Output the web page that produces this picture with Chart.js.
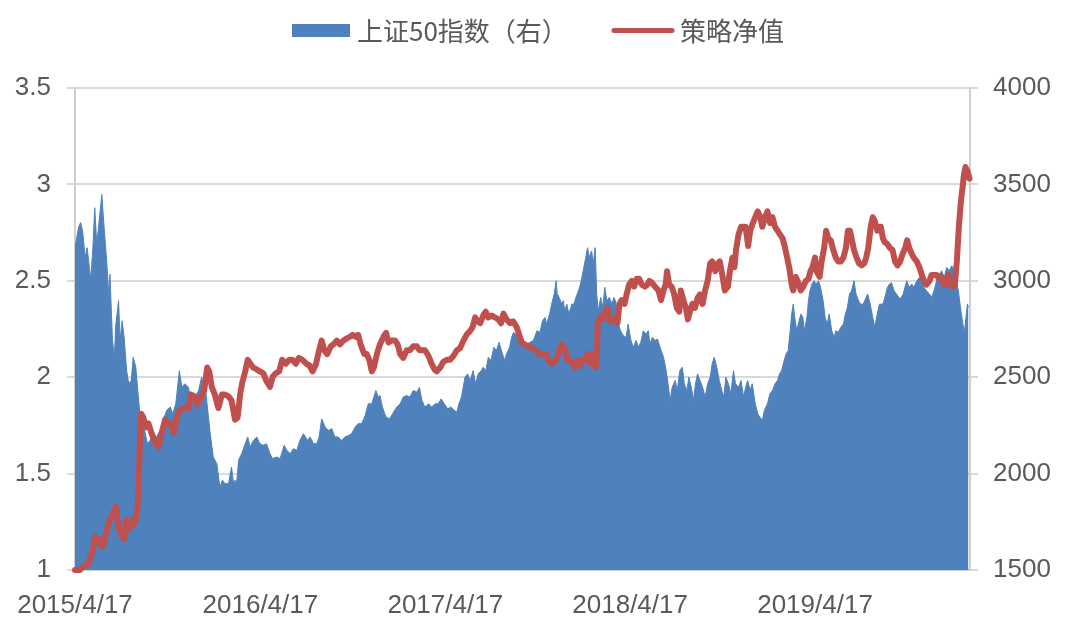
<!DOCTYPE html>
<html>
<head>
<meta charset="utf-8">
<script src="https://cdn.jsdelivr.net/npm/chart.js"></script>
<style>
  html, body { margin: 0; padding: 0; background: #fff; }
  #wrap { width: 1074px; height: 624px; position: relative; }
</style>
</head>
<body>
<div id="wrap"><canvas id="chart"></canvas></div>
<script>
// x 轴：距 2015/4/17 的天数
const tickDays = [0, 366, 731, 1096, 1461];
const tickLabels = ['2015/4/17', '2016/4/17', '2017/4/17', '2018/4/17', '2019/4/17'];
const lastDay = 1767;

const seriesNames = ['上证50指数（右）', '策略净值'];

// 上证50指数（右轴）
const indexDays = [
  0, 7, 11, 15, 20, 24, 31, 35, 39, 43, 47, 53, 56, 63, 67, 69, 74, 78, 80, 86, 89, 93, 97, 102, 106, 111, 115, 120, 124, 128, 136, 143, 148, 155, 161, 168, 174, 181, 188, 193, 199, 206, 211, 217, 224,
  230, 237, 244, 250, 253, 258, 262, 267, 273, 280, 286, 291, 296, 303, 309, 313, 316, 319, 323, 329, 336, 341, 346, 352, 359, 365, 372, 378, 385, 390, 398, 405, 413, 418, 425, 431, 438, 444, 451,
  459, 464, 471, 477, 482, 487, 494, 500, 507, 513, 520, 526, 533, 540, 546, 553, 559, 566, 573, 579, 586, 590, 594, 599, 602, 607, 614, 621, 627, 635, 642, 648, 655, 661, 668, 675, 680,
  685, 691, 698, 704, 711, 717, 723, 729, 736, 742, 749, 754, 758, 763, 770, 775, 780, 786, 791, 796, 802, 806, 811, 816, 821, 827, 832, 837, 842, 848, 852, 858, 862, 866, 872, 879, 885, 892, 898, 905,
  912, 918, 923, 928, 931, 937, 941, 946, 950, 952, 956, 961, 964, 967, 971, 975, 981, 985, 989, 994, 998, 1002, 1007, 1012, 1015, 1020, 1023, 1027, 1030, 1033, 1038, 1042, 1046, 1050, 1055, 1060, 1064, 1068, 1073, 1077, 1083, 1088, 1092, 1097, 1102, 1108, 1112, 1117, 1122, 1127, 1132,
  1135, 1140, 1145, 1150, 1155, 1162, 1166, 1170, 1175, 1179, 1185, 1189, 1194, 1199, 1203, 1208, 1212, 1218, 1221, 1225, 1229, 1234, 1239, 1244, 1249, 1254, 1258, 1262, 1267, 1272, 1277, 1281, 1285, 1290, 1295, 1300, 1304, 1310, 1315, 1320, 1324, 1328, 1333, 1337, 1343, 1348, 1352, 1357, 1361,
  1367, 1372, 1377, 1382, 1387, 1391, 1395, 1400, 1404, 1408, 1412, 1415, 1418, 1421, 1425, 1428, 1433, 1437, 1440, 1445, 1448, 1451, 1455, 1459, 1463, 1468, 1472, 1477, 1481, 1485, 1489, 1494, 1499, 1502, 1507, 1512, 1517, 1521, 1525, 1529, 1533, 1538, 1542, 1547, 1551, 1556, 1562, 1565, 1570, 1575, 1579, 1584, 1588,
  1595, 1599, 1604, 1608, 1612, 1617, 1622, 1629, 1635, 1642, 1647, 1652, 1656, 1662, 1667, 1672, 1676, 1681, 1687, 1691, 1696, 1701, 1706, 1711, 1716, 1721, 1726, 1731, 1735, 1739, 1744, 1749, 1753, 1756, 1759, 1762, 1764
];
const indexValues = [
  3172, 3276, 3302, 3259, 3121, 3172, 3008, 3155, 3379, 3190, 3293, 3448, 3328, 3086, 2914, 3034, 2690, 2603, 2759, 2897, 2690, 2793, 2707, 2534, 2466, 2483, 2603, 2552, 2431, 2310, 2241, 2155, 2172, 2207, 2190, 2224, 2276, 2328, 2345, 2310, 2362, 2534, 2448, 2466, 2448,
  2362, 2397, 2431, 2500, 2466, 2431, 2328, 2207, 2086, 2052, 1931, 1966, 1948, 1948, 2034, 1948, 1966, 1948, 2069, 2103, 2155, 2190, 2138, 2172, 2190, 2155, 2147, 2155, 2103, 2078, 2086, 2078, 2147, 2121, 2103, 2129, 2121, 2172, 2207,
  2172, 2190, 2155, 2155, 2190, 2284, 2241, 2224, 2233, 2190, 2190, 2172, 2190, 2198, 2207, 2241, 2259, 2259, 2302, 2362, 2362, 2397, 2431, 2397, 2405, 2345, 2293, 2284, 2310, 2345, 2362, 2397, 2405, 2397, 2431, 2422, 2448,
  2379, 2345, 2362, 2345, 2362, 2362, 2388, 2362, 2336, 2345, 2328, 2319, 2362, 2397, 2500, 2517, 2483, 2534, 2466, 2517, 2534, 2552, 2534, 2603, 2586, 2655, 2638, 2681, 2638, 2586, 2621, 2655, 2707, 2733, 2717, 2690, 2681, 2672, 2681, 2690,
  2741, 2733, 2793, 2810, 2776, 2828, 2879, 2931, 3000, 2931, 2914, 2879, 2897, 2845, 2879, 2828, 2879, 2879, 2914, 2948, 2983, 3034, 3103, 3172, 3121, 3155, 3086, 3172, 2931, 2845, 2914, 2862, 2966, 2897, 2914, 2879, 2914, 2888, 2776, 2741, 2715, 2707, 2776, 2698, 2655, 2690, 2655, 2681, 2741, 2724, 2741,
  2672, 2707, 2690, 2698, 2655, 2603, 2552, 2483, 2379, 2448, 2483, 2431, 2534, 2552, 2466, 2431, 2500, 2431, 2379, 2466, 2517, 2483, 2448, 2397, 2466, 2500, 2569, 2603, 2552, 2483, 2431, 2397, 2500, 2466, 2414, 2534, 2466, 2448, 2483, 2397, 2448, 2483, 2431, 2466, 2362, 2310, 2293, 2276, 2328,
  2362, 2414, 2431, 2466, 2483, 2517, 2534, 2586, 2621, 2638, 2741, 2828, 2879, 2810, 2741, 2776, 2828, 2810, 2741, 2810, 2897, 2948, 2983, 3000, 2983, 3000, 2966, 2897, 2810, 2776, 2828, 2741, 2707, 2741, 2733, 2759, 2776, 2828, 2862, 2931, 2948, 3000, 2931, 2897, 2879, 2879, 2914, 2931, 2879, 2810, 2759, 2828, 2879,
  2879, 2914, 2966, 2983, 2991, 2948, 2931, 2905, 2931, 3000, 2966, 2983, 2966, 3000, 3017, 3000, 2966, 2948, 2931, 2914, 2948, 3000, 3034, 3052, 3017, 3069, 3052, 3078, 3052, 3017, 2948, 2845, 2776, 2733, 2810, 2879, 2862
];

// 策略净值（左轴）
const navDays = [
  0, 10, 16, 26, 31, 35, 39, 46, 53, 57, 63, 69, 74, 81, 86, 90, 97, 101, 107, 114, 118, 123, 126, 128, 131, 135, 140, 145, 151, 158, 165, 171, 178, 184, 191, 195, 201, 207,
  217, 224, 229, 236, 242, 249, 255, 261, 265, 270, 276, 283, 290, 296, 303, 309, 316, 321, 326, 330, 336, 341, 346, 352, 359, 365, 372, 378, 385, 390, 396, 403, 409, 416, 423, 429, 436, 442, 449,
  457, 463, 469, 476, 482, 487, 492, 498, 505, 510, 517, 523, 530, 536, 543, 548, 553, 559, 564, 571, 576, 581, 586, 590, 596, 602, 609, 614, 619, 625, 632, 637, 642, 648, 655, 661, 668, 675, 680,
  685, 691, 698, 704, 710, 714, 721, 727, 734, 740, 747, 754, 760, 767, 773, 780, 785, 790, 795, 800, 806, 811, 816, 823, 829, 836, 841, 846, 852, 859, 865, 872, 877, 882, 888, 895,
  910, 917, 923, 930, 936, 943, 950, 956, 961, 967, 972, 977, 983, 987, 992, 997, 1002, 1007, 1012, 1017, 1022, 1027, 1030, 1032, 1037, 1042, 1046, 1051, 1056, 1062, 1067, 1071, 1075, 1079, 1085, 1089, 1094, 1099, 1104, 1109, 1114, 1119, 1125, 1130, 1134,
  1139, 1145, 1152, 1157, 1162, 1166, 1169, 1173, 1178, 1183, 1188, 1193, 1196, 1201, 1206, 1210, 1214, 1219, 1224, 1229, 1234, 1239, 1244, 1249, 1254, 1258, 1264, 1269, 1273, 1278, 1283, 1289, 1293, 1298, 1302, 1305, 1310, 1315, 1320, 1324, 1329, 1333, 1337, 1343, 1348, 1353, 1357, 1361,
  1367, 1372, 1377, 1382, 1387, 1392, 1397, 1402, 1406, 1410, 1415, 1418, 1423, 1428, 1433, 1438, 1443, 1448, 1452, 1456, 1461, 1464, 1470, 1474, 1479, 1483, 1487, 1492, 1497, 1502, 1507, 1512, 1517, 1522, 1526, 1530, 1534, 1538, 1543, 1548, 1553, 1558, 1562, 1566, 1571, 1575, 1579, 1584, 1588,
  1591, 1595, 1599, 1604, 1609, 1614, 1619, 1624, 1629, 1634, 1639, 1643, 1647, 1652, 1656, 1662, 1667, 1672, 1676, 1681, 1687, 1691, 1696, 1701, 1706, 1711, 1716, 1720, 1724, 1728, 1733, 1737, 1741, 1745, 1749, 1753, 1755, 1758, 1762, 1766
];
const navValues = [
  1.00, 1.00, 1.02, 1.03, 1.07, 1.10, 1.17, 1.16, 1.12, 1.14, 1.21, 1.26, 1.29, 1.33, 1.22, 1.19, 1.16, 1.26, 1.21, 1.26, 1.24, 1.31, 1.45, 1.66, 1.81, 1.79, 1.74, 1.76, 1.71, 1.66, 1.64, 1.71, 1.78, 1.76, 1.76, 1.71, 1.79, 1.83,
  1.84, 1.84, 1.91, 1.90, 1.86, 1.90, 1.93, 2.05, 2.03, 1.95, 1.91, 1.84, 1.91, 1.91, 1.90, 1.88, 1.78, 1.79, 1.91, 1.97, 2.03, 2.09, 2.07, 2.05, 2.04, 2.03, 2.02, 1.98, 1.95, 2.00, 2.02, 2.03, 2.09, 2.07, 2.09, 2.09, 2.07, 2.10, 2.09,
  2.07, 2.06, 2.03, 2.07, 2.14, 2.19, 2.14, 2.12, 2.16, 2.17, 2.19, 2.17, 2.19, 2.20, 2.21, 2.22, 2.21, 2.22, 2.17, 2.12, 2.12, 2.09, 2.03, 2.05, 2.12, 2.17, 2.21, 2.23, 2.18, 2.19, 2.19, 2.17, 2.12, 2.10, 2.14, 2.14, 2.16, 2.16, 2.14,
  2.14, 2.14, 2.11, 2.07, 2.04, 2.03, 2.05, 2.08, 2.09, 2.09, 2.11, 2.14, 2.15, 2.19, 2.22, 2.24, 2.26, 2.31, 2.29, 2.28, 2.32, 2.34, 2.31, 2.32, 2.31, 2.30, 2.28, 2.33, 2.30, 2.28, 2.29, 2.26, 2.22, 2.18, 2.17, 2.16,
  2.14, 2.12, 2.12, 2.12, 2.08, 2.07, 2.09, 2.14, 2.17, 2.15, 2.09, 2.09, 2.07, 2.05, 2.09, 2.06, 2.09, 2.09, 2.12, 2.07, 2.12, 2.05, 2.07, 2.28, 2.31, 2.30, 2.33, 2.36, 2.29, 2.29, 2.31, 2.28, 2.38, 2.40, 2.38, 2.43, 2.48, 2.50, 2.47, 2.51, 2.51, 2.48, 2.47, 2.48, 2.50,
  2.49, 2.47, 2.45, 2.40, 2.45, 2.48, 2.55, 2.48, 2.47, 2.43, 2.36, 2.34, 2.45, 2.40, 2.36, 2.30, 2.34, 2.38, 2.36, 2.41, 2.43, 2.38, 2.45, 2.50, 2.59, 2.60, 2.55, 2.59, 2.60, 2.53, 2.45, 2.47, 2.55, 2.62, 2.57, 2.66, 2.74, 2.78, 2.78, 2.78, 2.68, 2.76, 2.79, 2.83, 2.86, 2.83, 2.78, 2.82,
  2.86, 2.80, 2.83, 2.78, 2.76, 2.74, 2.72, 2.67, 2.62, 2.57, 2.48, 2.45, 2.52, 2.49, 2.45, 2.47, 2.50, 2.51, 2.55, 2.57, 2.62, 2.55, 2.52, 2.60, 2.67, 2.76, 2.72, 2.71, 2.66, 2.62, 2.60, 2.60, 2.62, 2.67, 2.76, 2.76, 2.71, 2.66, 2.62, 2.59, 2.58, 2.59, 2.62, 2.67, 2.78, 2.83, 2.81, 2.76, 2.78,
  2.78, 2.72, 2.70, 2.69, 2.67, 2.66, 2.60, 2.58, 2.60, 2.64, 2.67, 2.71, 2.67, 2.64, 2.62, 2.60, 2.57, 2.53, 2.50, 2.48, 2.50, 2.53, 2.53, 2.53, 2.51, 2.52, 2.48, 2.48, 2.53, 2.50, 2.47, 2.48, 2.60, 2.78, 2.91, 3.00, 3.05, 3.09, 3.07, 3.03
];

const BLUE = '#4F81BD';
const RED = '#C0504D';
const TEXT = '#595959';
const GRID = '#D9D9D9';
const AXIS = '#CFCFCF';
const NUM_FONT = { family: '"Liberation Sans", Arial, sans-serif', size: 26 };

// 图例：蓝色方块 + 红色线段，相对画布中线定位
const topLegend = {
  id: 'topLegend',
  afterDraw(chart) {
    const ctx = chart.ctx;
    const cx = chart.width / 2;
    const cy = 30.5;
    ctx.save();
    ctx.font = '26px "Noto Sans CJK SC", sans-serif';
    ctx.textBaseline = 'middle';

    ctx.fillStyle = BLUE;
    ctx.fillRect(cx - 245, cy - 6.5, 58, 13);
    ctx.fillStyle = TEXT;
    ctx.fillText(seriesNames[0], cx - 180, cy + 1);

    ctx.strokeStyle = RED;
    ctx.lineWidth = 5;
    ctx.lineCap = 'round';
    ctx.beginPath();
    ctx.moveTo(cx + 77, cy);
    ctx.lineTo(cx + 135, cy);
    ctx.stroke();
    ctx.fillText(seriesNames[1], cx + 143, cy + 1);
    ctx.restore();
  }
};

new Chart(document.getElementById('chart'), {
  type: 'line',
  data: {
    datasets: [
      {
        label: seriesNames[0],
        data: indexDays.map((d, i) => ({ x: d, y: indexValues[i] })),
        yAxisID: 'yRight',
        fill: 'start',
        backgroundColor: BLUE,
        borderColor: BLUE,
        borderWidth: 1,
        pointRadius: 0,
        tension: 0,
        order: 2
      },
      {
        label: seriesNames[1],
        data: navDays.map((d, i) => ({ x: d, y: navValues[i] })),
        yAxisID: 'yLeft',
        fill: false,
        borderColor: RED,
        backgroundColor: RED,
        borderWidth: 6,
        borderJoinStyle: 'round',
        borderCapStyle: 'round',
        pointRadius: 0,
        tension: 0,
        clip: false,
        order: 1
      }
    ]
  },
  options: {
    responsive: true,
    maintainAspectRatio: false,
    animation: false,
    layout: { padding: { top: 88, left: 0, right: 0, bottom: 0 } },
    plugins: {
      legend: { display: false },
      tooltip: { enabled: false }
    },
    scales: {
      x: {
        type: 'linear',
        min: 0,
        max: lastDay,
        z: 1,
        afterBuildTicks: (scale) => { scale.ticks = tickDays.map((v) => ({ value: v })); },
        afterFit: (scale) => { scale.height = 54; },
        grid: { display: false },
        border: { display: true, color: AXIS, width: 2 },
        ticks: {
          autoSkip: false,
          maxRotation: 0,
          padding: 12,
          color: TEXT,
          font: NUM_FONT,
          callback: (v) => tickLabels[tickDays.indexOf(v)]
        }
      },
      yLeft: {
        position: 'left',
        min: 1,
        max: 3.5,
        afterFit: (scale) => { scale.width = 75; },
        grid: { color: GRID, lineWidth: 2, tickLength: 8 },
        border: { color: AXIS, width: 2 },
        ticks: {
          stepSize: 0.5,
          padding: 16,
          color: TEXT,
          font: NUM_FONT,
          callback: (v) => String(v)
        }
      },
      yRight: {
        position: 'right',
        min: 1500,
        max: 4000,
        afterFit: (scale) => { scale.width = 104; },
        grid: { drawOnChartArea: false, color: GRID, lineWidth: 2, tickLength: 8 },
        border: { color: AXIS, width: 2 },
        ticks: {
          stepSize: 500,
          padding: 15,
          color: TEXT,
          font: NUM_FONT,
          callback: (v) => String(v)
        }
      }
    }
  },
  plugins: [topLegend]
});
</script>
</body>
</html>
